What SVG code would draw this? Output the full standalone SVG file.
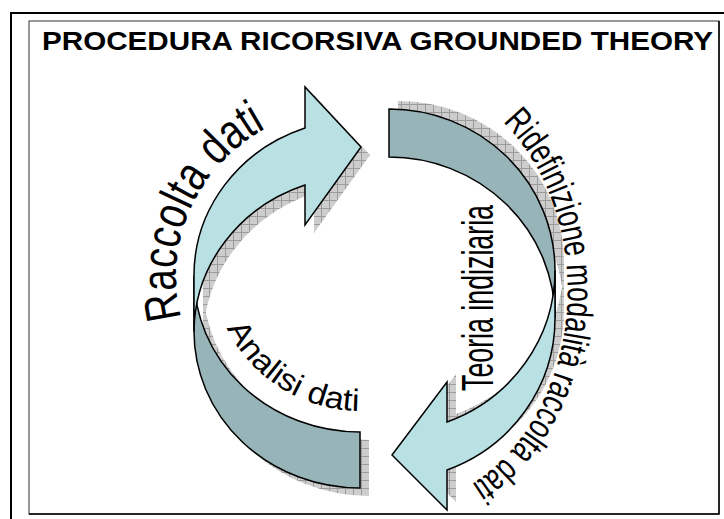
<svg xmlns="http://www.w3.org/2000/svg" xmlns:xlink="http://www.w3.org/1999/xlink" width="724" height="519" viewBox="0 0 724 519">
<style>
.frame{fill:none;stroke:#000;stroke-width:2}
.inner{fill:#fff;stroke:#333;stroke-width:1}
.front{fill:#b9e1e4;stroke:#000;stroke-width:1.5;stroke-linejoin:miter}
.back{fill:#97b4b8;stroke:#000;stroke-width:1.5}
.sh{fill:url(#hatch);stroke:none}
.t{font-family:"Liberation Sans",Arial,sans-serif;fill:#000}
</style>
<defs>
<pattern id="hatch" width="8" height="8" patternUnits="userSpaceOnUse">
<rect width="8" height="8" fill="#cdcdcd"/>
<path d="M0 0.5H8M0.5 0V8" stroke="#9c9c9c" stroke-width="1"/>
</pattern>
<path id="lfront" d="M194,331.6 L194,275.6 A166 156.4 0 0 1 305,128 L305,87 L361,147 L305,225 L305,185 A166 156.4 0 0 0 194,331.6 Z"/>
<path id="lback" d="M360,432 A166 156.4 0 0 1 194,275.6 L194,331.6 A166 156.4 0 0 0 360,488 Z"/>
<path id="rfront" d="M555,270.6 L555,318.6 A166 161.6 0 0 1 447,470 L447,510 L392,455 L447,382 L447,422 A166 161.6 0 0 0 555,270.6 Z"/>
<path id="rback" d="M389,157 A166 161.6 0 0 1 555,318.6 L555,270.6 A166 161.6 0 0 0 389,109 Z"/>
<path id="p1" d="M181.5,318 A184 172 0 0 1 262.5,130.1"/>
<path id="p2" d="M227,328 A148 142 0 0 0 363,411"/>
<path id="p3" d="M503,122 A175 217 0 0 1 470,485"/>
</defs>
<g id="frame">
<path class="frame" d="M11,519 V13 H724"/>
<rect class="inner" x="29" y="21" width="690" height="493"/>
<path d="M719,21 V514 H29" fill="none" stroke="#000" stroke-width="1.5"/>
</g>
<g id="title">
<text class="t" x="377.5" y="50" font-size="25" font-weight="bold" text-anchor="middle" textLength="671" lengthAdjust="spacingAndGlyphs">PROCEDURA RICORSIVA GROUNDED THEORY</text>
</g>
<g id="connectors">
<g id="left-arrow">
<use xlink:href="#lback" class="sh" transform="translate(9,8)"/>
<use xlink:href="#lfront" class="sh" transform="translate(9,8)"/>
<use xlink:href="#lback" class="back"/>
<use xlink:href="#lfront" class="front"/>
</g>
<g id="right-arrow">
<use xlink:href="#rback" class="sh" transform="translate(9,-8)"/>
<use xlink:href="#rfront" class="sh" transform="translate(9,-8)"/>
<use xlink:href="#rback" class="back"/>
<use xlink:href="#rfront" class="front"/>
</g>
</g>
<g id="label-raccolta">
<text class="t" font-size="49"><textPath xlink:href="#p1" textLength="224" lengthAdjust="spacingAndGlyphs">Raccolta dati</textPath></text>
</g>
<g id="label-analisi">
<text class="t" font-size="31"><textPath xlink:href="#p2" textLength="164" lengthAdjust="spacingAndGlyphs">Analisi dati</textPath></text>
</g>
<g id="label-ridefinizione">
<text class="t" font-size="37"><textPath xlink:href="#p3" textLength="410" lengthAdjust="spacingAndGlyphs">Ridefinizione modalità raccolta dati</textPath></text>
</g>
<g id="label-teoria">
<text class="t" font-size="45" transform="translate(493,391) rotate(-90)" textLength="186" lengthAdjust="spacingAndGlyphs">Teoria indiziaria</text>
</g>
</svg>
